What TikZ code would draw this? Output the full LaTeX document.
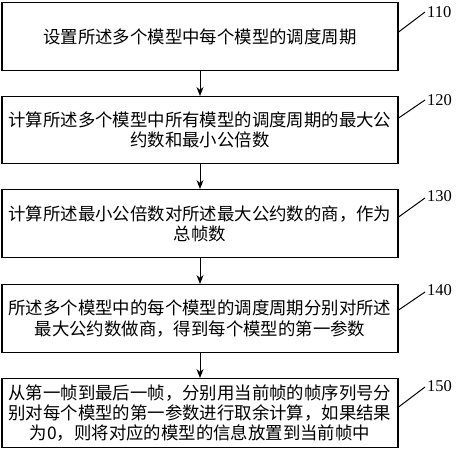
\documentclass[tikz,border=0pt]{standalone}
\usepackage{fontspec}
\setmainfont{Liberation Serif}
\newfontfamily\cjk{Noto Sans CJK SC}
\usetikzlibrary{arrows.meta}
\begin{document}
\begin{tikzpicture}[x=1pt,y=-1pt,
  stepbox/.style={draw, line width=1.2pt, minimum width=396pt, inner sep=0pt,
    align=center, font=\cjk\fontsize{17.4}{20.3}\selectfont, anchor=north},
  flow/.style={-{Stealth[length=9pt,width=7pt]}, line width=1pt},
  lead/.style={line width=1pt},
  numlab/.style={anchor=west, inner sep=0pt, font=\fontsize{16.5}{18}\selectfont}]
\useasboundingbox (0,0) rectangle (456,450);
\node[stepbox, minimum height=68pt] (b1) at (200,2) {设置所述多个模型中每个模型的调度周期};
\node[stepbox, minimum height=67pt] (b2) at (200,96) {计算所述多个模型中所有模型的调度周期的最大公\\约数和最小公倍数};
\node[stepbox, minimum height=68pt] (b3) at (200,189) {计算所述最小公倍数对所述最大公约数的商，作为\\总帧数};
\node[stepbox, minimum height=68pt] (b4) at (200,284) {所述多个模型中的每个模型的调度周期分别对所述\\最大公约数做商，得到每个模型的第一参数};
\node[stepbox, minimum height=69pt] (b5) at (200,378) {从第一帧到最后一帧，分别用当前帧的帧序列号分\\别对每个模型的第一参数进行取余计算，如果结果\\为0，则将对应的模型的信息放置到当前帧中};
\draw[flow] (b1.south) -- (b2.north);
\draw[flow] (b2.south) -- (b3.north);
\draw[flow] (b3.south) -- (b4.north);
\draw[flow] (b4.south) -- (b5.north);
\coordinate (e1) at (425,12);
\coordinate (e2) at (425,100);
\coordinate (e3) at (425,198);
\coordinate (e4) at (425,292);
\coordinate (e5) at (425,387);
\draw[lead] (b1.east |- 0,32) -- (e1);
\draw[lead] (b2.east |- 0,118) -- (e2);
\draw[lead] (b3.east |- 0,217) -- (e3);
\draw[lead] (b4.east |- 0,310) -- (e4);
\draw[lead] (b5.east |- 0,407) -- (e5);
\node[numlab] (l1) at (427,12) {110};
\node[numlab] (l2) at (427,100) {120};
\node[numlab] (l3) at (427,196) {130};
\node[numlab] (l4) at (427,290) {140};
\node[numlab] (l5) at (427,386) {150};
\end{tikzpicture}
\end{document}
